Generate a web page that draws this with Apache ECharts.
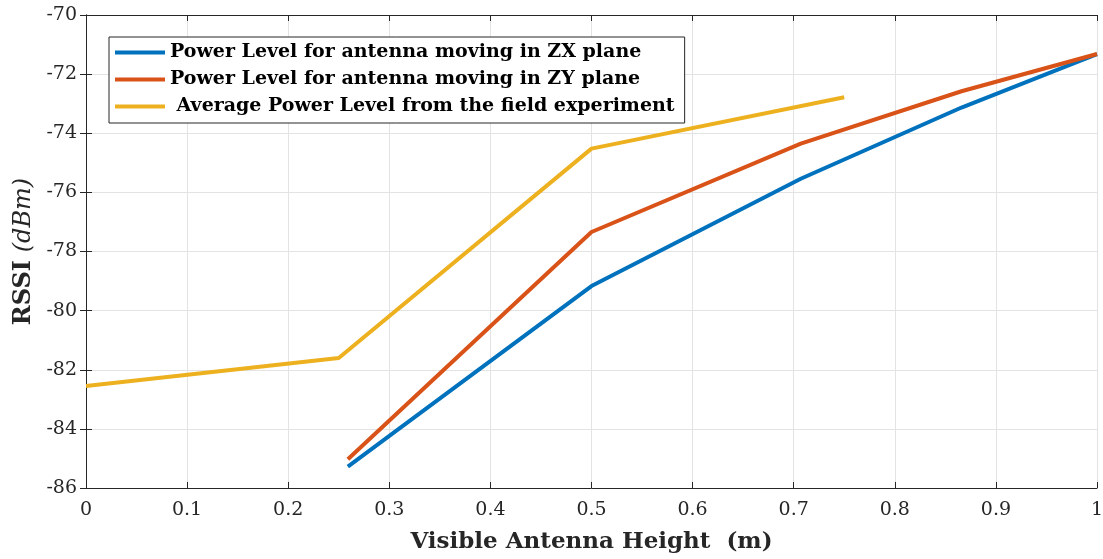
<!DOCTYPE html>
<html>
<head>
<meta charset="utf-8">
<script src="https://cdn.jsdelivr.net/npm/echarts@6/dist/echarts.min.js"></script>
<style>
  html, body { margin: 0; padding: 0; background: #fff; }
  #rssichart { width: 1103px; height: 559px; }
</style>
</head>
<body>
<div id="rssichart"></div>
<script>
// antenna heights (m)
var heightsPlane = [0.259, 0.5, 0.707, 0.866, 1];
var heightsField = [0, 0.25, 0.5, 0.75];
// RSSI values (dBm)
var rssiZX = [-85.28, -79.17, -75.54, -73.13, -71.32];
var rssiZY = [-85.03, -77.34, -74.35, -72.58, -71.32];
var rssiField = [-82.55, -81.6, -74.52, -72.78];
var seriesNames = [
    'Power Level for antenna moving in ZX plane',
    'Power Level for antenna moving in ZY plane',
    ' Average Power Level from the field experiment'
];
var colors = ['#0072BD', '#D95319', '#EDB120'];

function pairs(xs, ys) {
    return xs.map(function (x, i) { return [x, ys[i]]; });
}

var chartDom = document.getElementById('rssichart');
var myChart = echarts.init(chartDom);
var option;

var serif = 'DejaVu Serif';
var axisCol = '#262626';

option = {
    animation: false,
    color: colors,
    textStyle: { fontFamily: serif },
    grid: { left: 86, right: 6, top: 15, bottom: 71, containLabel: false, outerBoundsMode: 'none' },
    legend: {
        orient: 'vertical',
        left: 109,
        top: 37,
        padding: [6, 10, 7, 6],
        itemGap: 8,
        itemWidth: 50,
        itemHeight: 4,
        icon: 'rect',
        borderColor: axisCol,
        borderWidth: 1,
        backgroundColor: '#fff',
        textStyle: { fontFamily: serif, fontWeight: 'bold', fontSize: 19, color: '#000' },
        data: seriesNames
    },
    xAxis: [{
        type: 'value',
        min: 0, max: 1, interval: 0.1,
        name: 'Visible Antenna Height  (m)',
        nameLocation: 'middle',
        nameGap: 43,
        nameTextStyle: { fontFamily: serif, fontWeight: 'bold', fontSize: 23, color: axisCol },
        axisLine: { show: true, lineStyle: { color: axisCol } },
        axisTick: { show: true, inside: true, length: 6, lineStyle: { color: axisCol } },
        axisLabel: { fontFamily: serif, fontSize: 19, color: axisCol, margin: 13 },
        splitLine: { show: true, lineStyle: { color: '#e3e3e3' } }
    }, {
        type: 'value', position: 'top',
        min: 0, max: 1, interval: 0.1,
        axisLine: { show: true, lineStyle: { color: axisCol } },
        axisTick: { show: true, inside: true, length: 6, lineStyle: { color: axisCol } },
        axisLabel: { show: false },
        splitLine: { show: false }
    }],
    yAxis: [{
        type: 'value',
        min: -86, max: -70, interval: 2,
        name: '{b|RSSI}  {i|(dBm)}',
        nameLocation: 'middle',
        nameGap: 50,
        nameRotate: 90,
        nameTextStyle: {
            rich: {
                b: { fontFamily: serif, fontWeight: 'bold', fontSize: 24, color: axisCol },
                i: { fontFamily: serif, fontStyle: 'italic', fontSize: 24, color: axisCol }
            }
        },
        axisLine: { show: true, lineStyle: { color: axisCol } },
        axisTick: { show: true, inside: true, length: 6, lineStyle: { color: axisCol } },
        axisLabel: { fontFamily: serif, fontSize: 19, color: axisCol, margin: 9 },
        splitLine: { show: true, lineStyle: { color: '#e3e3e3' } }
    }, {
        type: 'value', position: 'right',
        min: -86, max: -70, interval: 2,
        axisLine: { show: true, lineStyle: { color: axisCol } },
        axisTick: { show: true, inside: true, length: 6, lineStyle: { color: axisCol } },
        axisLabel: { show: false },
        splitLine: { show: false }
    }],
    series: [
        { name: seriesNames[0], type: 'line', symbol: 'none', lineStyle: { width: 4 }, data: pairs(heightsPlane, rssiZX) },
        { name: seriesNames[1], type: 'line', symbol: 'none', lineStyle: { width: 4 }, data: pairs(heightsPlane, rssiZY) },
        { name: seriesNames[2], type: 'line', symbol: 'none', lineStyle: { width: 4 }, data: pairs(heightsField, rssiField) }
    ]
};

option && myChart.setOption(option);
</script>
</body>
</html>
